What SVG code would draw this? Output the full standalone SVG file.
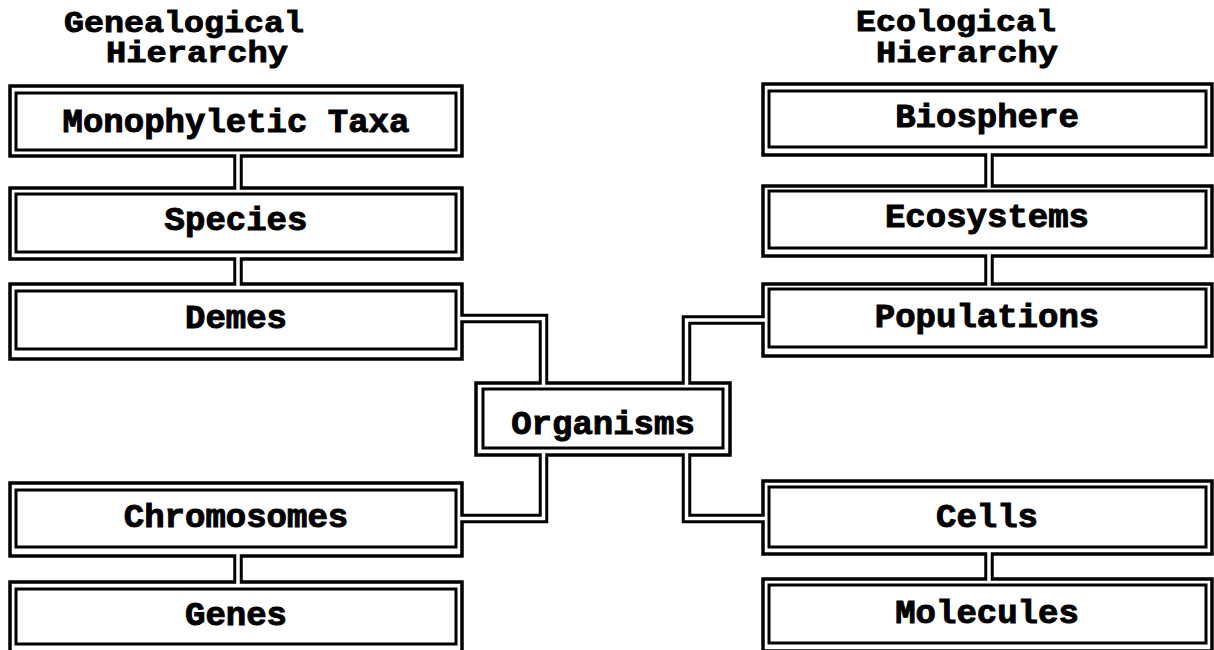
<svg xmlns="http://www.w3.org/2000/svg" width="1214" height="650" viewBox="0 0 1214 650">
<style>
.o{fill:#fff;stroke:#000;stroke-width:3.5}
.i{fill:none;stroke:#000;stroke-width:3}
.t{font-family:"Liberation Mono","Courier New",monospace;font-weight:bold;font-size:34px;fill:#000;stroke:#000;stroke-width:1;text-anchor:middle}
.h{font-family:"Liberation Mono","Courier New",monospace;font-weight:bold;font-size:29px;fill:#000;stroke:#000;stroke-width:0.9}
.pb{fill:none;stroke:#000;stroke-width:9.5;stroke-linejoin:miter}
.pw{fill:none;stroke:#fff;stroke-width:3.5;stroke-linejoin:miter}
</style>
<rect width="1214" height="650" fill="#fff"/>
<g id="headers">
<text class="h" x="64" y="32" textLength="240" lengthAdjust="spacingAndGlyphs">Genealogical</text>
<text class="h" x="106" y="62" textLength="182" lengthAdjust="spacingAndGlyphs">Hierarchy</text>
<text class="h" x="856" y="31" textLength="200" lengthAdjust="spacingAndGlyphs">Ecological</text>
<text class="h" x="876" y="62" textLength="182" lengthAdjust="spacingAndGlyphs">Hierarchy</text>
</g>
<g id="monophyletic-taxa">
<rect class="o" x="10" y="86" width="452" height="70"/>
<rect class="i" x="16" y="93" width="440" height="57"/>
<text class="t" x="236" y="132">Monophyletic Taxa</text>
</g>
<g id="species">
<rect class="o" x="10" y="188" width="452" height="71"/>
<rect class="i" x="16" y="194" width="440" height="58"/>
<text class="t" x="236" y="230">Species</text>
</g>
<g id="demes">
<rect class="o" x="10" y="284" width="452" height="75"/>
<rect class="i" x="16" y="291" width="440" height="58"/>
<text class="t" x="236" y="328">Demes</text>
</g>
<g id="chromosomes">
<rect class="o" x="10" y="483" width="452" height="73"/>
<rect class="i" x="16" y="490" width="440" height="57"/>
<text class="t" x="236" y="527">Chromosomes</text>
</g>
<g id="genes">
<rect class="o" x="10" y="582" width="452" height="70"/>
<rect class="i" x="16" y="589" width="440" height="55"/>
<text class="t" x="236" y="625">Genes</text>
</g>
<g id="biosphere">
<rect class="o" x="763" y="84" width="449" height="71"/>
<rect class="i" x="769" y="91" width="437" height="56"/>
<text class="t" x="987" y="127">Biosphere</text>
</g>
<g id="ecosystems">
<rect class="o" x="763" y="186" width="449" height="70"/>
<rect class="i" x="769" y="191" width="437" height="57"/>
<text class="t" x="987" y="227">Ecosystems</text>
</g>
<g id="populations">
<rect class="o" x="763" y="284" width="449" height="72"/>
<rect class="i" x="769" y="289" width="437" height="58"/>
<text class="t" x="987" y="327">Populations</text>
</g>
<g id="cells">
<rect class="o" x="763" y="481" width="449" height="73"/>
<rect class="i" x="769" y="487" width="437" height="60"/>
<text class="t" x="987" y="527">Cells</text>
</g>
<g id="molecules">
<rect class="o" x="763" y="579" width="449" height="72"/>
<rect class="i" x="769" y="585" width="437" height="58"/>
<text class="t" x="987" y="623">Molecules</text>
</g>
<g id="organisms">
<rect class="o" x="476" y="383" width="254" height="72"/>
<rect class="i" x="483" y="389" width="240" height="59"/>
<text class="t" x="603" y="434">Organisms</text>
</g>
<g id="connectors">
<path class="pb" d="M238 156V188"/>
<path class="pw" d="M238 152.5V191.5"/>
<path class="pb" d="M238 259V284"/>
<path class="pw" d="M238 255.5V287.5"/>
<path class="pb" d="M238 556V582"/>
<path class="pw" d="M238 552.5V585.5"/>
<path class="pb" d="M989 155V186"/>
<path class="pw" d="M989 151.5V189"/>
<path class="pb" d="M989 256V284"/>
<path class="pw" d="M989 252V287"/>
<path class="pb" d="M989 554V579"/>
<path class="pw" d="M989 550.5V582"/>
<path class="pb" d="M462 318.5H543.5V383"/>
<path class="pw" d="M458.5 318.5H543.5V386.5"/>
<path class="pb" d="M763 320H686.5V383"/>
<path class="pw" d="M766.5 320H686.5V386.5"/>
<path class="pb" d="M462 518.5H543.5V455"/>
<path class="pw" d="M458.5 518.5H543.5V451.5"/>
<path class="pb" d="M763 518.5H686.5V455"/>
<path class="pw" d="M766.5 518.5H686.5V451.5"/>
</g>
</svg>
